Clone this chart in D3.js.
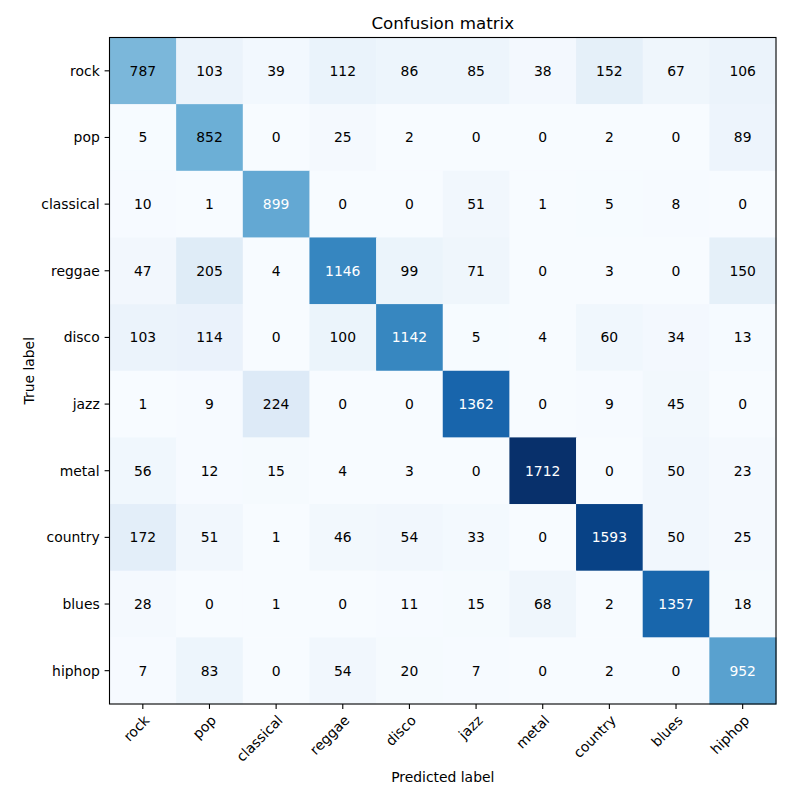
<!DOCTYPE html>
<html>
<head>
<meta charset="utf-8">
<script src="https://cdn.jsdelivr.net/npm/d3@7"></script>
<style>
  body { margin: 0; background: #fff; }
  svg { font-family: "DejaVu Sans", sans-serif; }
</style>
</head>
<body>
<svg id="chart" width="800" height="800"></svg>
<script>
// class names (rows = true label, cols = predicted label)
var classes = ["rock", "pop", "classical", "reggae", "disco", "jazz", "metal", "country", "blues", "hiphop"];

// confusion counts, one row per true class
var rock      = [787, 103,  39,  112,   86,   85,   38,  152,   67, 106];
var pop       = [  5, 852,   0,   25,    2,    0,    0,    2,    0,  89];
var classical = [ 10,   1, 899,    0,    0,   51,    1,    5,    8,   0];
var reggae    = [ 47, 205,   4, 1146,   99,   71,    0,    3,    0, 150];
var disco     = [103, 114,   0,  100, 1142,    5,    4,   60,   34,  13];
var jazz      = [  1,   9, 224,    0,    0, 1362,    0,    9,   45,   0];
var metal     = [ 56,  12,  15,    4,    3,    0, 1712,    0,   50,  23];
var country   = [172,  51,   1,   46,   54,   33,    0, 1593,   50,  25];
var blues     = [ 28,   0,   1,    0,   11,   15,   68,    2, 1357,  18];
var hiphop    = [  7,  83,   0,   54,   20,    7,    0,    2,    0, 952];

var matrix = [rock, pop, classical, reggae, disco, jazz, metal, country, blues, hiphop];

var svg = d3.select("#chart"),
    margin = {top: 37.5, left: 109.5},
    size = 666.5,
    fs = 13.9

var cells = []
matrix.forEach(function(row, i) {
    row.forEach(function(v, j) {
        cells.push({r: classes[i], c: classes[j], v: v})
    })
})
var maxVal = d3.max(cells, d => d.v)

var x = d3.scaleBand().domain(classes).range([margin.left, margin.left + size])
var y = d3.scaleBand().domain(classes).range([margin.top, margin.top + size])

// matplotlib "Blues" is a linear ramp over the 9 colorbrewer stops
var color = d3.scaleSequential(d3.piecewise(d3.interpolateRgb, d3.schemeBlues[9]))
    .domain([0, maxVal])

svg.append("g").selectAll("rect")
    .data(cells)
    .join("rect")
    .attr("x", d => x(d.c))
    .attr("y", d => y(d.r))
    .attr("width", x.bandwidth() + 0.5)
    .attr("height", y.bandwidth() + 0.5)
    .attr("fill", d => color(d.v))

svg.append("g").selectAll("text")
    .data(cells)
    .join("text")
    .attr("x", d => x(d.c) + x.bandwidth() / 2)
    .attr("y", d => y(d.r) + y.bandwidth() / 2)
    .attr("dy", "0.36em")
    .attr("text-anchor", "middle")
    .attr("font-size", fs)
    .attr("fill", d => d.v > maxVal / 2 ? "#fff" : "#000")
    .text(d => d.v)

// frame
svg.append("rect")
    .attr("x", margin.left)
    .attr("y", margin.top)
    .attr("width", size)
    .attr("height", size)
    .attr("fill", "none")
    .attr("stroke", "#000")
    .attr("stroke-width", 1.1)

// axes (ticks only, labels are placed by hand below like matplotlib)
var xAxis = svg.append("g")
    .attr("transform", `translate(0, ${margin.top + size})`)
    .call(d3.axisBottom(x).tickSizeOuter(0).tickSizeInner(4.9).tickFormat(""))
var yAxis = svg.append("g")
    .attr("transform", `translate(${margin.left}, 0)`)
    .call(d3.axisLeft(y).tickSizeOuter(0).tickSizeInner(4.9).tickFormat(""))
svg.selectAll(".domain").remove()
svg.selectAll(".tick line").attr("stroke", "#000").attr("stroke-width", 1.1)
xAxis.attr("font-family", null).attr("font-size", null)
yAxis.attr("font-family", null).attr("font-size", null)

yAxis.selectAll(".tick").append("text")
    .attr("x", -9.8)
    .attr("dy", "0.36em")
    .attr("text-anchor", "end")
    .attr("fill", "#000")
    .attr("font-size", fs)
    .text(d => d)

// rotated x labels: right end anchored at the tick, then rotated 45deg
xAxis.selectAll(".tick").append("text")
    .attr("transform", "translate(0, 9.8) rotate(-45)")
    .attr("dy", "0.76em")
    .attr("text-anchor", "end")
    .attr("fill", "#000")
    .attr("font-size", fs)
    .text(d => d)

svg.append("text")
    .attr("x", margin.left + size / 2)
    .attr("y", 29)
    .attr("text-anchor", "middle")
    .attr("font-size", 16.7)
    .text("Confusion matrix")

svg.append("text")
    .attr("x", margin.left + size / 2)
    .attr("y", 782)
    .attr("text-anchor", "middle")
    .attr("font-size", fs)
    .text("Predicted label")

svg.append("text")
    .attr("transform", `translate(33.5, ${margin.top + size / 2}) rotate(-90)`)
    .attr("text-anchor", "middle")
    .attr("font-size", fs)
    .text("True label")
</script>
</body>
</html>
